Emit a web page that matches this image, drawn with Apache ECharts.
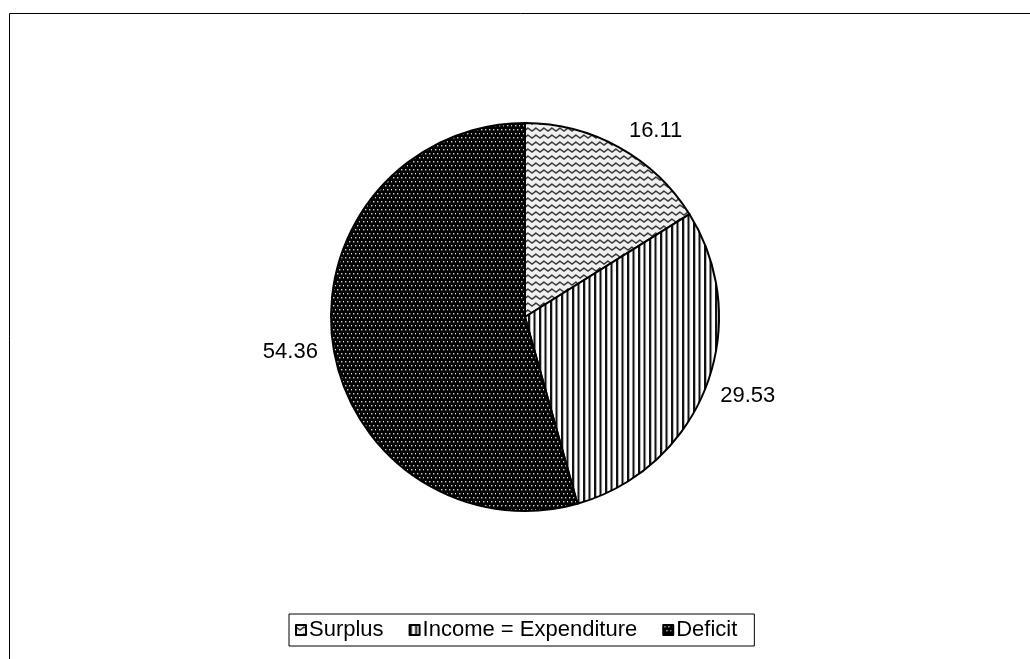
<!DOCTYPE html>
<html>
<head>
<meta charset="utf-8">
<style>
  html, body { margin: 0; padding: 0; background: #fff; }
  #chart { width: 1030px; height: 659px; }
</style>
<script src="https://cdn.jsdelivr.net/npm/echarts@6/dist/echarts.min.js"></script>
</head>
<body>
<div id="chart"></div>
<script>
// Share of households by budget balance (percent)
const categories = ['Surplus', 'Income = Expenditure', 'Deficit'];
const shares = [16.11, 29.53, 54.36];

// --- hatch fills drawn on small tiles ---
function tile(w, h, draw) {
  const c = document.createElement('canvas');
  c.width = w; c.height = h;
  draw(c.getContext('2d'), w, h);
  return c;
}

// light ground with grey zig-zag waves
const wavePattern = tile(8, 7, (g, w, h) => {
  g.fillStyle = '#f0f0f0';
  g.fillRect(0, 0, w, h);
  g.strokeStyle = '#3a3a3a';
  g.lineWidth = 1.4;
  g.beginPath();
  g.moveTo(-2, 5);
  g.lineTo(0, 2);
  g.lineTo(4, 5);
  g.lineTo(8, 2);
  g.lineTo(10, 5);
  g.stroke();
});

// white ground with black vertical stripes
const stripePattern = tile(11, 4, (g, w, h) => {
  g.fillStyle = '#ffffff';
  g.fillRect(0, 0, w, h);
  g.fillStyle = '#111111';
  g.fillRect(0, 0, 2, h);
  g.fillRect(5.5, 0, 2, h);
  g.fillStyle = '#888888';
  g.fillRect(2, 0, 0.6, h);
  g.fillRect(7.5, 0, 0.6, h);
});

// black ground with a staggered grid of pale dots
const dotPattern = tile(8, 8, (g, w, h) => {
  g.fillStyle = '#000000';
  g.fillRect(0, 0, w, h);
  g.fillStyle = '#cfcfcf';
  [[1, 1], [5, 1], [3, 5], [7, 5]].forEach(([x, y]) => g.fillRect(x, y, 1.4, 1.4));
});

const fills = [wavePattern, stripePattern, dotPattern].map(img => ({ image: img, repeat: 'repeat' }));

// small nudges for the outside value labels
const labelNudge = [{ dy: -8 }, { dy: 5 }, { dy: 7 }];

const chart = echarts.init(document.getElementById('chart'), null, { renderer: 'canvas' });

chart.setOption({
  animation: false,
  backgroundColor: '#ffffff',
  textStyle: { fontFamily: 'Liberation Sans, Arial, sans-serif' },
  graphic: [{
    type: 'rect',
    shape: { x: 9.5, y: 13.5, width: 1200, height: 800 },
    style: { fill: 'none', stroke: '#000', lineWidth: 1 },
    silent: true
  }],
  legend: {
    data: categories,
    left: 289,
    top: 614,
    orient: 'horizontal',
    itemWidth: 10,
    itemHeight: 10,
    itemGap: 25,
    padding: [5, 17, 5, 6],
    borderColor: '#000',
    borderWidth: 1,
    icon: 'rect',
    selectedMode: false,
    textStyle: { fontSize: 22, color: '#000', fontFamily: 'Liberation Sans, Arial, sans-serif', padding: [0, 0, 0, -2] },
    itemStyle: { borderColor: '#000', borderWidth: 2 }
  },
  series: [{
    type: 'pie',
    center: [525, 317],
    radius: 194,
    startAngle: 90,
    clockwise: true,
    avoidLabelOverlap: false,
    label: {
      show: true,
      position: 'outside',
      formatter: p => p.value.toFixed(2),
      fontSize: 22,
      color: '#000',
      fontFamily: 'Liberation Sans, Arial, sans-serif'
    },
    labelLine: { show: false, length: 10, length2: 0 },
    labelLayout: p => labelNudge[p.dataIndex],
    itemStyle: { borderColor: '#000', borderWidth: 2 },
    emphasis: { disabled: true },
    data: categories.map((name, i) => ({
      name,
      value: shares[i],
      itemStyle: { color: fills[i] }
    }))
  }]
});
</script>
</body>
</html>
